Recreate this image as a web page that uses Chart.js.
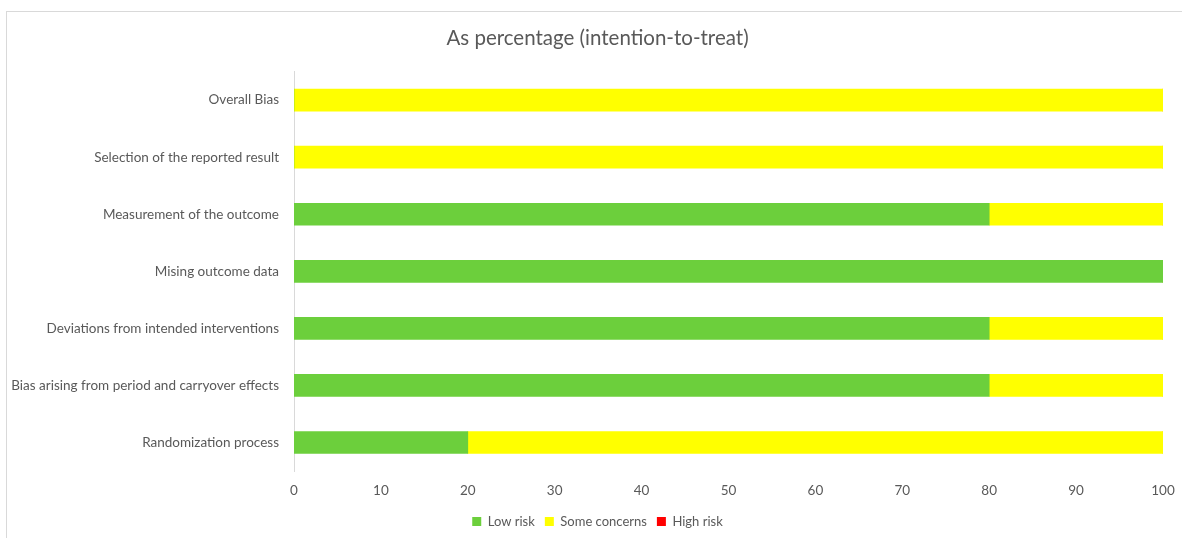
<!DOCTYPE html>
<html>
<head>
<meta charset="utf-8">
<script src="https://cdn.jsdelivr.net/npm/chart.js@4"></script>
<style>
  html, body { margin: 0; padding: 0; background: #fff; }
  #frame {
    position: absolute; left: 6px; top: 11px; width: 1180px; height: 530px;
    border: 1px solid #d9d9d9; box-sizing: border-box;
  }
  #wrap { position: absolute; left: 0; top: 0; width: 1182px; height: 538px; }
</style>
</head>
<body>
<div id="frame"></div>
<div id="wrap"><canvas id="chart"></canvas></div>
<script>
const domains = [
  "Overall Bias",
  "Selection of the reported result",
  "Measurement of the outcome",
  "Mising outcome data",
  "Deviations from intended interventions",
  "Bias arising from period and carryover effects",
  "Randomization process"
];
const lowRisk = [0, 0, 80, 100, 80, 80, 20];
const someConcerns = [100, 100, 20, 0, 20, 20, 80];
const highRisk = [0, 0, 0, 0, 0, 0, 0];
const xTicks = [0, 10, 20, 30, 40, 50, 60, 70, 80, 90, 100];

const FONT = "Lato, 'Open Sans', sans-serif";
const GREY = "#595959";

// let the long y labels use the left padding too (title/legend stay centred on the frame)
const labelRoom = {
  id: "labelRoom",
  afterLayout(chart) { chart.scales.y.left = 0; }
};

const ctx = document.getElementById("chart");
new Chart(ctx, {
  type: "bar",
  data: {
    labels: domains,
    datasets: [
      { label: "Low risk", data: lowRisk, backgroundColor: "#6ccf3c" },
      { label: "Some concerns", data: someConcerns, backgroundColor: "#ffff00" },
      { label: "High risk", data: highRisk, backgroundColor: "#ff0000" }
    ]
  },
  options: {
    indexAxis: "y",
    responsive: true,
    maintainAspectRatio: false,
    animation: false,
    barThickness: 22,
    layout: { padding: { left: 32, right: 19, top: 0, bottom: 0 } },
    scales: {
      x: {
        stacked: true,
        min: 0, max: 100,
        afterBuildTicks: (s) => { s.ticks = xTicks.map(v => ({ value: v })); },
        grid: { display: false },
        border: { display: false },
        ticks: { color: GREY, font: { family: FONT, size: 13.5 }, padding: 4 },
        afterFit: (s) => { s.height = 34; }
      },
      y: {
        stacked: true,
        grid: { display: false },
        border: { color: "#d9d9d9", width: 1 },
        ticks: { color: GREY, font: { family: FONT, size: 13.5 }, padding: 7 },
        afterFit: (s) => { s.width = 262; }
      }
    },
    plugins: {
      title: {
        display: true,
        text: "As percentage (intention-to-treat)",
        color: GREY,
        font: { family: FONT, size: 20.5, weight: "normal" },
        padding: { top: 26, bottom: 21 }
      },
      legend: {
        position: "bottom",
        labels: {
          color: GREY,
          font: { family: FONT, size: 13 },
          boxWidth: 9, boxHeight: 9,
          padding: 10
        }
      },
      tooltip: { enabled: false }
    }
  },
  plugins: [labelRoom]
});
</script>
</body>
</html>
